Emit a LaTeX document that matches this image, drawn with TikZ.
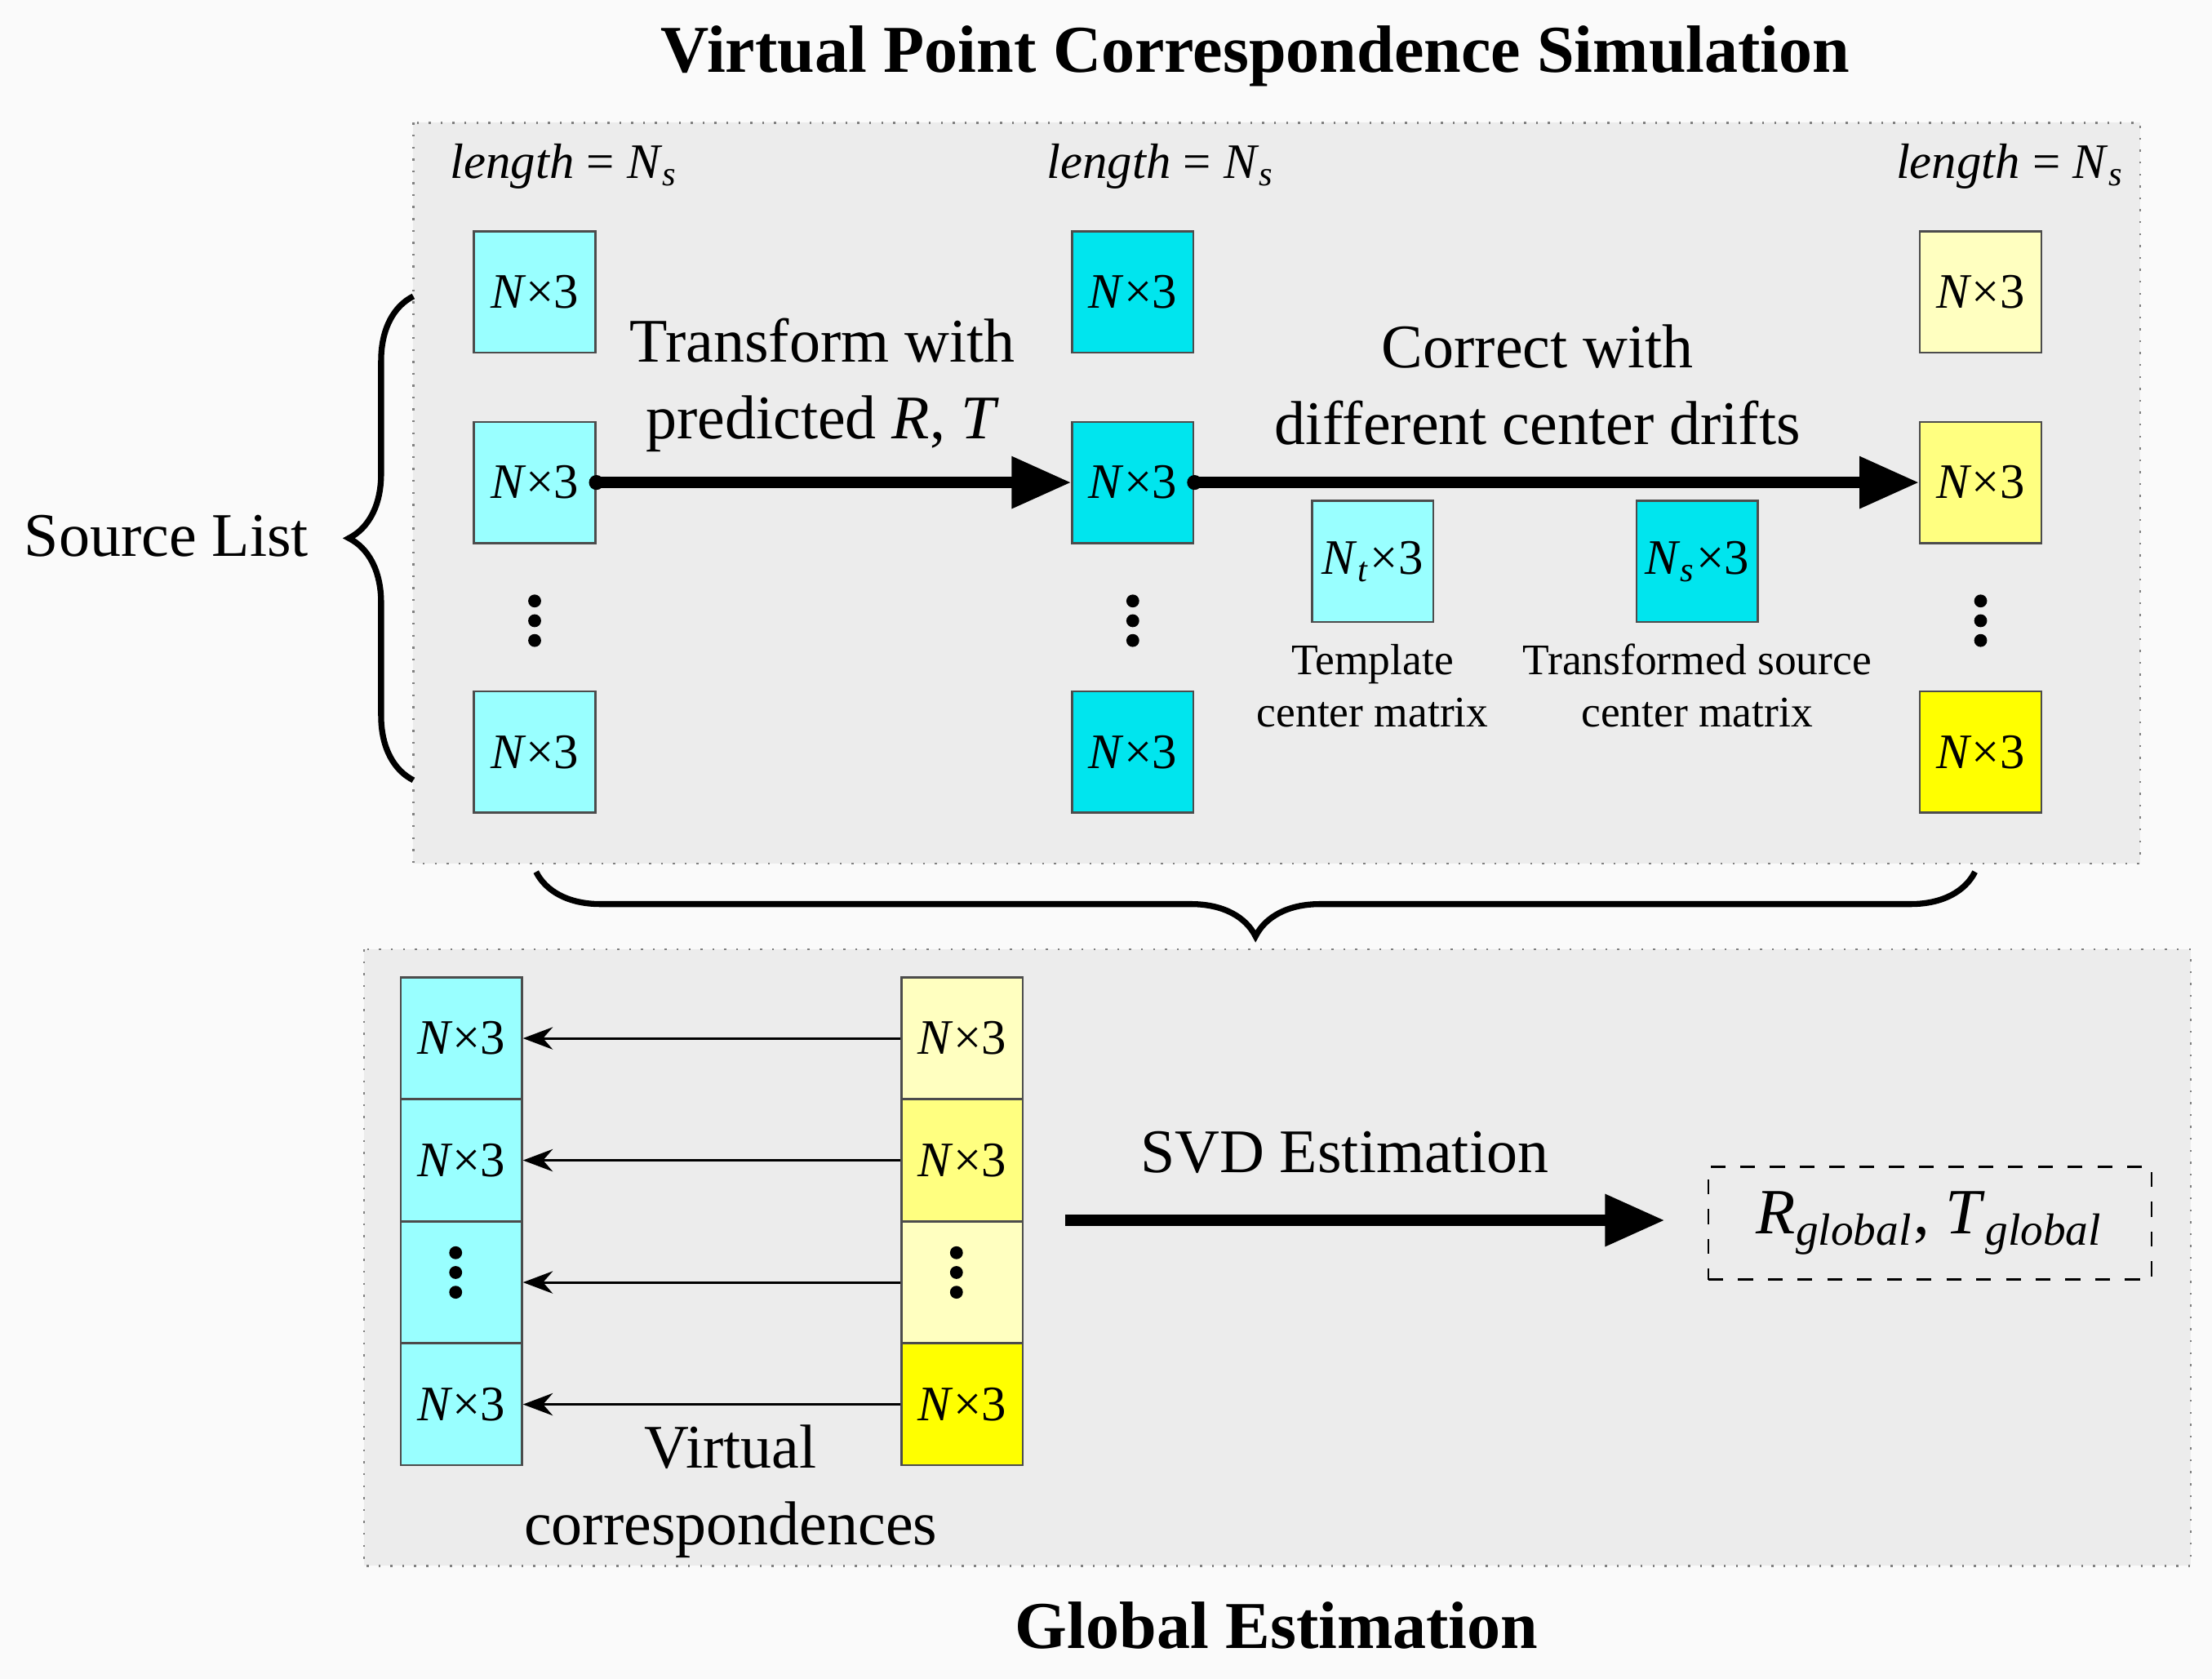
\documentclass[tikz,border=0pt]{standalone}
\usepackage{fontspec}
\setmainfont{Liberation Serif}
\usetikzlibrary{arrows.meta,decorations.pathreplacing}
\definecolor{bgc}{HTML}{FAFAFA}
\definecolor{panel}{HTML}{ECECEC}
\definecolor{lc}{HTML}{99FFFF}
\definecolor{cc}{HTML}{00E5EE}
\definecolor{y1}{HTML}{FFFFC0}
\definecolor{y2}{HTML}{FFFF80}
\definecolor{y3}{HTML}{FFFF00}
\newcommand{\Nx}{\textit{N}×3}
\newcommand{\sub}[1]{\textsubscript{\textit{#1}}}
\newcommand{\vdts}[1]{\foreach \dd in {-14,0,14}{\fill ($(#1)+(0,\dd)$) circle (1.3pt);}}
\usetikzlibrary{calc}
\begin{document}
\begin{tikzpicture}[x=0.01cm,y=-0.01cm,
  mat/.style={draw=black!70,minimum width=0.86cm,minimum height=0.86cm,inner sep=0pt,font=\fontsize{10}{12}\selectfont},
  panelbox/.style={draw=black!50,dotted,fill=panel},
  big/.style={font=\fontsize{12.5}{15.5}\selectfont,align=center},
  small/.style={font=\fontsize{8.8}{10.5}\selectfont,align=center},
  lenlab/.style={font=\fontsize{10}{12}\selectfont},
  bigarrow/.style={line width=2.2pt,-{Triangle[length=12pt,width=10pt]}},
  thin arrow/.style={line width=0.5pt,-{Stealth[length=6pt]}}]
\fill[bgc] (0,0) rectangle (1568,1190);
\useasboundingbox (0,0) rectangle (1568,1190);
\node[font=\fontsize{13.5}{16}\selectfont\bfseries] (title) at (890,40) {Virtual Point Correspondence Simulation};
\draw[panelbox] (293,87) rectangle (1517,612);
\node[lenlab] (l1) at (400,118) {\textit{length} = \textit{N}\sub{s}};
\node[lenlab] (l2) at (823,118) {\textit{length} = \textit{N}\sub{s}};
\node[lenlab] (l3) at (1425,118) {\textit{length} = \textit{N}\sub{s}};
% column 1
\node[mat,fill=lc] (a1) at (379,207) {\Nx};
\node[mat,fill=lc] (a2) at (379,342) {\Nx};
\coordinate (ad) at (379,440);
\node[mat,fill=lc] (a3) at (379,533) {\Nx};
% column 2
\node[mat,fill=cc] (b1) at (803,207) {\Nx};
\node[mat,fill=cc] (b2) at (803,342) {\Nx};
\coordinate (bd) at (803,440);
\node[mat,fill=cc] (b3) at (803,533) {\Nx};
% column 3
\node[mat,fill=y1] (c1) at (1404,207) {\Nx};
\node[mat,fill=y2] (c2) at (1404,342) {\Nx};
\coordinate (cd) at (1404,440);
\node[mat,fill=y3] (c3) at (1404,533) {\Nx};
\vdts{ad}\vdts{bd}\vdts{cd}
\fill (a2.east) circle (1.5pt);
\draw[bigarrow] (a2.east) -- (b2.west);
\fill (b2.east) circle (1.5pt);
\draw[bigarrow] (b2.east) -- (c2.west);
\node[big] (t1) at (583,273) {Transform with\\predicted \textit{R}, \textit{T}};
\node[big] (t2) at (1090,273) {Correct with\\different center drifts};
\node[mat,fill=lc] (tm) at (973,398) {\textit{N}\sub{t}×3};
\node[mat,fill=cc] (sm) at (1203,398) {\textit{N}\sub{s}×3};
\node[small] (tml) at (973,486) {Template\\center matrix};
\node[small] (sml) at (1203,486) {Transformed source\\center matrix};
\draw[line width=1.2pt,decorate,decoration={brace,amplitude=13pt}] (293,553) -- (293,210);
\node[big] (sl) at (118,380) {Source List};
\draw[line width=1.2pt,decorate,decoration={brace,amplitude=13pt}] (1400,618) -- (380,618);
% bottom
\draw[panelbox] (258,673) rectangle (1553,1110);
\node[mat,fill=lc] (p1) at (327,736) {\Nx};
\node[mat,fill=lc] (p2) at (327,822.5) {\Nx};
\node[mat,fill=lc] (p3) at (327,909) {};
\coordinate (p3d) at (323,902);
\node[mat,fill=lc] (p4) at (327,995.5) {\Nx};
\node[mat,fill=y1] (q1) at (682,736) {\Nx};
\node[mat,fill=y2] (q2) at (682,822.5) {\Nx};
\node[mat,fill=y1] (q3) at (682,909) {};
\coordinate (q3d) at (678,902);
\node[mat,fill=y3] (q4) at (682,995.5) {\Nx};
\vdts{p3d}\vdts{q3d}
\draw[thin arrow] (q1.west) -- (p1.east);
\draw[thin arrow] (q2.west) -- (p2.east);
\draw[thin arrow] (q3.west) -- (p3.east);
\draw[thin arrow] (q4.west) -- (p4.east);
\node[big] (vc) at (518,1057) {Virtual\\correspondences};
\node[draw,dashed,minimum width=3.14cm,minimum height=0.8cm,font=\fontsize{13}{16}\selectfont] (rt) at (1368,867) {\textit{R}\sub{global}, \textit{T}\sub{global}};
\coordinate (svs) at (755,865);
\coordinate (sve) at (1180,865);
\draw[bigarrow] (svs) -- (sve);
\node[big] (svd) at (953,817) {SVD Estimation};
\node[font=\fontsize{13.5}{16}\selectfont\bfseries] (ge) at (905,1152) {Global Estimation};
\end{tikzpicture}
\end{document}
